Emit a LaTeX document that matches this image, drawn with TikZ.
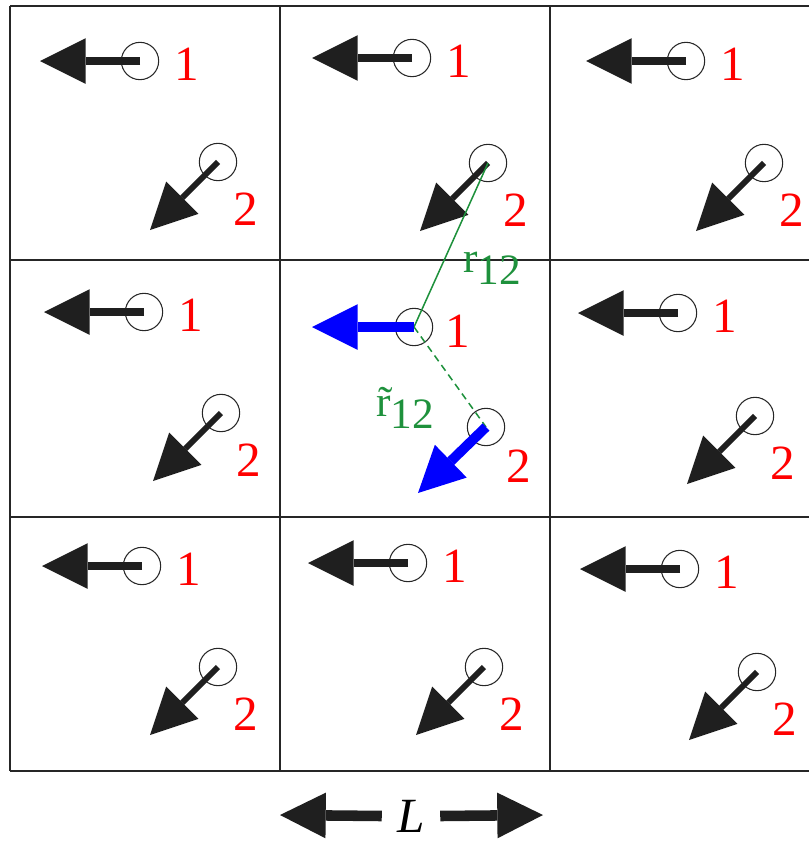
\documentclass[tikz,border=0pt]{standalone}
\usepackage{fontspec}
\setmainfont{Liberation Serif}
\usetikzlibrary{arrows.meta,calc}

\definecolor{labred}{RGB}{255,0,0}
\definecolor{sepgreen}{RGB}{30,145,60}
\definecolor{fblue}{RGB}{0,0,255}

\begin{document}
\begin{tikzpicture}[
  x=0.03cm, y=-0.03cm,
  cellline/.style={line width=1.4pt, draw=black!85},
  part/.style={circle, draw=black!85, line width=0.9pt, minimum size=1.12cm, inner sep=0pt},
  num/.style={text=labred, font=\fontsize{42}{42}\selectfont, inner sep=0pt},
  force/.style={-{Triangle[length=39pt,width=39pt,line width=0pt]}, line width=6.5pt, draw=black!88},
  dforce/.style={force, line width=5pt},
  bforce/.style={force, draw=fblue, line width=8.5pt},
  dist/.style={draw=sepgreen, line width=1.3pt},
  dlabel/.style={text=sepgreen, font=\fontsize{37}{37}\selectfont, inner sep=0pt}
]
\useasboundingbox (0,0) rectangle (809,841);

% cell boundaries
\draw[cellline] (10,6) -- (809,6) (10,260) -- (809,260) (10,517) -- (809,517) (10,771) -- (809,771);
\draw[cellline] (10,6) -- (10,771) (280,6) -- (280,771) (550,6) -- (550,771);

% periodic images
\foreach \c/\ax/\ay/\bx/\by in {a/140/61/218/162, b/412/58/488/163, c/686/61/764/163,
    d/144/312/221/413, f/678/313/755/416,
    g/142/566/218/667, h/408/563/484/667, i/680/569/757/672}{
  \node[part] (one\c) at (\ax,\ay) {};
  \node[part] (two\c) at (\bx,\by) {};
  \coordinate (fone\c) at ($(one\c)+(-100,0)$);
  \coordinate (ftwo\c) at ($(two\c)+(-68,68)$);
  \draw[force] (one\c.center) -- (fone\c);
  \draw[dforce] (two\c.center) -- (ftwo\c);
  \node[num] (none\c) at ($(one\c)+(47,3)$) {1};
  \node[num] (ntwo\c) at ($(two\c)+(28,47)$) {2};
}

% central cell
\node[part] (onee) at (414,327) {};
\node[part] (twoe) at (486,427) {};
\coordinate (fonee) at ($(onee)+(-102,0)$);
\coordinate (ftwoe) at ($(twoe)+(-68,66)$);

\draw[dist] (onee.center) -- (twob.center);
\draw[dist, dash pattern=on 6pt off 4pt] (onee.center) -- (twoe.center);
\draw[bforce] (onee.center) -- (fonee);
\draw[bforce] (twoe.center) -- (ftwoe);

\node[num] (nonee) at ($(onee)+(44,4)$) {1};
\node[num] (ntwoe) at ($(twoe)+(33,39)$) {2};
\node[dlabel] (rlab) at (492,268) {r\raisebox{-0.28em}{12}};
\node[dlabel] (rtlab) at (405,408) {\~{r}\raisebox{-0.28em}{12}};

% box length
\node[minimum width=1.74cm, inner sep=0pt, font=\fontsize{42}{42}\selectfont\itshape] (len) at (411,816) {L};
\coordinate (lleft) at (280,815);
\coordinate (lright) at (543,815);
\draw[force, line width=9pt] (len.west) -- (lleft);
\draw[force, line width=9pt] (len.east) -- (lright);

\end{tikzpicture}
\end{document}
